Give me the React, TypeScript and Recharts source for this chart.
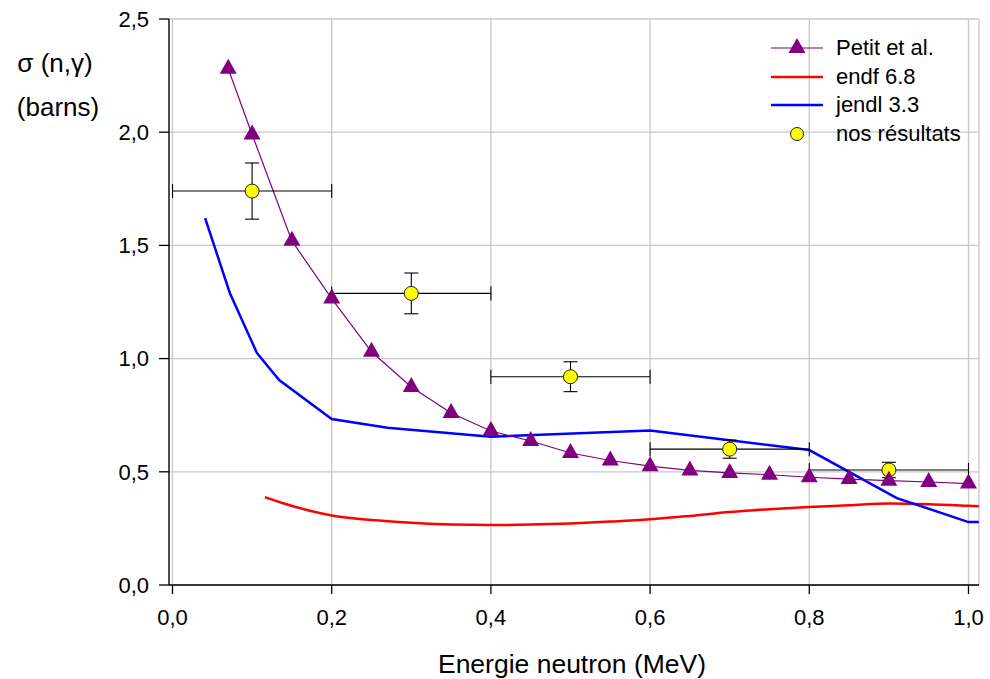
import React from 'react';
import { ComposedChart, Line, Scatter, XAxis, YAxis, CartesianGrid, ErrorBar, Legend } from 'recharts';

const FONT = '"Liberation Sans", Arial, sans-serif';

const xTicks = [0, 0.2, 0.4, 0.6, 0.8, 1.0];
const yTicks = [0, 0.5, 1.0, 1.5, 2.0, 2.5];

const petitX = [0.07, 0.1, 0.15, 0.2, 0.25, 0.3, 0.35, 0.4, 0.45, 0.5, 0.55, 0.6, 0.65, 0.7, 0.75, 0.8, 0.85, 0.9, 0.95, 1.0];
const petitY = [2.28, 1.99, 1.52, 1.265, 1.03, 0.875, 0.76, 0.68, 0.636, 0.583, 0.55, 0.525, 0.506, 0.495, 0.487, 0.476, 0.468, 0.461, 0.455, 0.448];

const endfX = [0.116, 0.14, 0.17, 0.2, 0.25, 0.3, 0.35, 0.4, 0.45, 0.5, 0.55, 0.6, 0.65, 0.7, 0.75, 0.8, 0.85, 0.9, 0.95, 1.0, 1.013];
const endfY = [0.388, 0.36, 0.33, 0.307, 0.287, 0.275, 0.267, 0.265, 0.267, 0.272, 0.28, 0.29, 0.305, 0.322, 0.335, 0.345, 0.352, 0.36, 0.357, 0.35, 0.348];

const jendlX = [0.041, 0.072, 0.106, 0.134, 0.2, 0.27, 0.4, 0.6, 0.8, 0.91, 1.0, 1.013];
const jendlY = [1.62, 1.29, 1.025, 0.905, 0.733, 0.695, 0.655, 0.682, 0.596, 0.384, 0.278, 0.278];

const nosX = [0.1, 0.3, 0.5, 0.7, 0.9];
const nosY = [1.74, 1.288, 0.92, 0.6, 0.508];
const nosXErr = [0.1, 0.1, 0.1, 0.1, 0.1];
const nosYErr = [0.124, 0.09, 0.066, 0.04, 0.034];

const legendLabels = ['Petit et al.', 'endf 6.8', 'jendl 3.3', 'nos résultats'];

const petitData = petitX.map((x, i) => ({ x, y: petitY[i] }));
const endfData = endfX.map((x, i) => ({ x, y: endfY[i] }));
const jendlData = jendlX.map((x, i) => ({ x, y: jendlY[i] }));
const nosData = nosX.map((x, i) => ({ x, y: nosY[i], ex: nosXErr[i], ey: nosYErr[i] }));

const fmt = (v: number) => v.toFixed(1).replace('.', ',');

const Triangle = (p: any) => {
  if (p.cx == null || p.cy == null) return <g key={p.index} />;
  const { cx, cy } = p;
  return (
    <polygon
      key={p.index}
      points={`${cx},${cy - 10} ${cx - 8.5},${cy + 5} ${cx + 8.5},${cy + 5}`}
      fill="#800080"
    />
  );
};

const renderLegend = () => (
  <div style={{ fontFamily: FONT, fontSize: 22, color: '#000' }}>
    {legendLabels.map((lab, i) => (
      <div key={lab} style={{ display: 'flex', alignItems: 'center', height: 28.5 }}>
        <svg width={52} height={28} style={{ display: 'block' }}>
          {i === 0 && (
            <g>
              <line x1={0} y1={14} x2={52} y2={14} stroke="#800080" strokeWidth={1.2} />
              <polygon points="26,4 17.5,19 34.5,19" fill="#800080" />
            </g>
          )}
          {i === 1 && <line x1={0} y1={14} x2={52} y2={14} stroke="#ff0000" strokeWidth={2.5} />}
          {i === 2 && <line x1={0} y1={14} x2={52} y2={14} stroke="#0000ff" strokeWidth={2.5} />}
          {i === 3 && <circle cx={26} cy={14} r={6.5} fill="#ffff00" stroke="#222" strokeWidth={1} />}
        </svg>
        <span style={{ marginLeft: 13, lineHeight: '28.5px', whiteSpace: 'nowrap' }}>{lab}</span>
      </div>
    ))}
  </div>
);

export default function App() {
  return (
    <div style={{ position: 'absolute', left: 0, top: 0, width: 990, height: 679, background: '#fff' }}>
      <ComposedChart width={990} height={679} margin={{ top: 19, right: 11, bottom: 0, left: 0 }}>
        <CartesianGrid stroke="#c8c8c8" strokeWidth={1.3} />
        <XAxis
          type="number"
          dataKey="x"
          domain={[-0.0044, 1.0132]}
          allowDataOverflow
          ticks={xTicks}
          tickFormatter={fmt}
          height={94}
          tickSize={9}
          tickMargin={15}
          axisLine={{ stroke: '#000', strokeWidth: 1.3 }}
          tickLine={{ stroke: '#000', strokeWidth: 1.3 }}
          tick={{ fill: '#000', fontSize: 22, fontFamily: FONT }}
          label={{
            content: () => (
              <text x={572} y={673} textAnchor="middle" fontSize={26.5} fontFamily={FONT} fill="#000">
                Energie neutron (MeV)
              </text>
            ),
          }}
        />
        <XAxis
          xAxisId="top"
          orientation="top"
          type="number"
          domain={[-0.0044, 1.0132]}
          allowDataOverflow
          height={0}
          tick={false}
          tickLine={false}
          axisLine={{ stroke: '#000', strokeWidth: 1.3 }}
        />
        <YAxis
          type="number"
          domain={[0, 2.5]}
          allowDataOverflow
          ticks={yTicks}
          tickFormatter={fmt}
          width={169}
          tickSize={10}
          tickMargin={10}
          axisLine={{ stroke: '#000', strokeWidth: 1.3 }}
          tickLine={{ stroke: '#000', strokeWidth: 1.3 }}
          tick={{ fill: '#000', fontSize: 22, fontFamily: FONT }}
          label={{
            content: () => (
              <g>
                <text x={55} y={72} textAnchor="middle" fontSize={26} fontFamily={FONT} fill="#000">
                  σ (n,γ)
                </text>
                <text x={58} y={116} textAnchor="middle" fontSize={26} fontFamily={FONT} fill="#000">
                  (barns)
                </text>
              </g>
            ),
          }}
        />
        <YAxis
          yAxisId="right"
          orientation="right"
          type="number"
          domain={[0, 2.5]}
          allowDataOverflow
          width={0}
          tick={false}
          tickLine={false}
          axisLine={{ stroke: '#000', strokeWidth: 1.3 }}
        />
        <Line
          data={endfData}
          dataKey="y"
          stroke="#ff0000"
          strokeWidth={2.5}
          dot={false}
          type="monotone"
          isAnimationActive={false}
        />
        <Line
          data={jendlData}
          dataKey="y"
          stroke="#0000ff"
          strokeWidth={2.5}
          dot={false}
          type="linear"
          isAnimationActive={false}
        />
        <Line
          data={petitData}
          dataKey="y"
          stroke="#800080"
          strokeWidth={1.2}
          dot={Triangle}
          activeDot={false}
          type="linear"
          isAnimationActive={false}
        />
        <Scatter
          data={nosData}
          dataKey="y"
          isAnimationActive={false}
          shape={(p: any) => <circle cx={p.cx} cy={p.cy} r={7} fill="#ffff00" stroke="#222" strokeWidth={1} />}
        >
          <ErrorBar dataKey="ex" direction="x" width={7} stroke="#000" strokeWidth={1.1} />
          <ErrorBar dataKey="ey" direction="y" width={7} stroke="#000" strokeWidth={1.1} />
        </Scatter>
        <Legend
          layout="vertical"
          align="center"
          verticalAlign="middle"
          content={renderLegend}
          wrapperStyle={{ position: 'absolute', left: 771, top: 34, width: 215, height: 'auto' }}
        />
      </ComposedChart>
    </div>
  );
}
